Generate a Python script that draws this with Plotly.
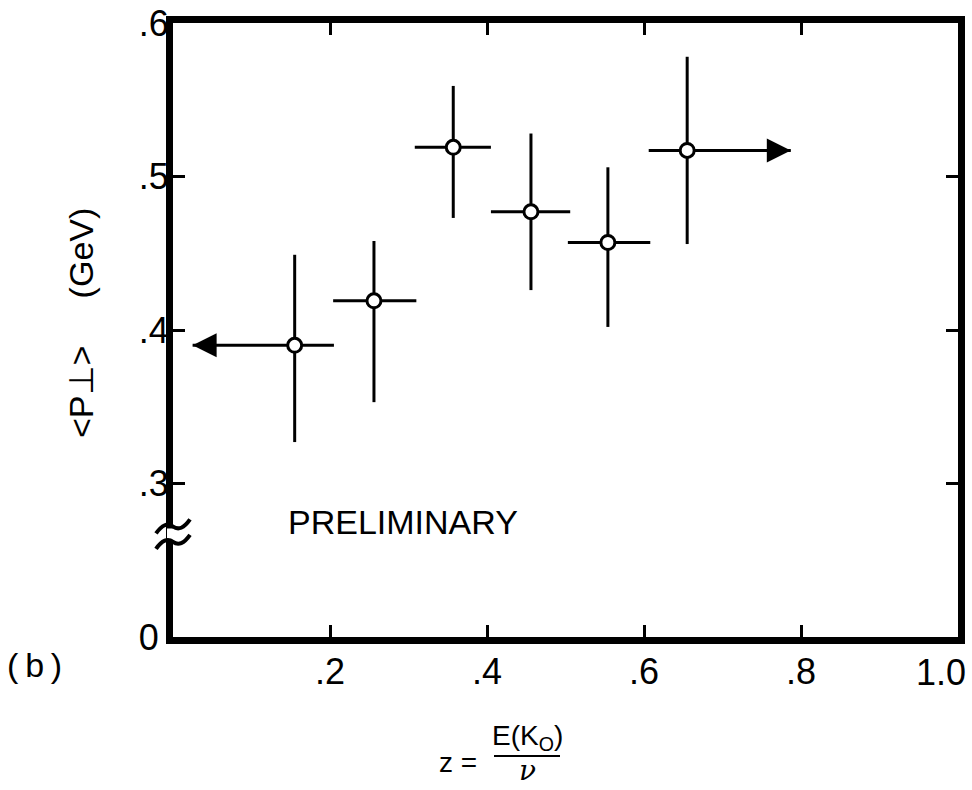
import plotly.graph_objects as go

# <p_T> of K0 versus z = E(K0)/nu, preliminary
z = [0.155, 0.256, 0.357, 0.456, 0.554, 0.655]
pt_mean = [0.390, 0.419, 0.519, 0.477, 0.457, 0.517]
pt_err_up = [0.059, 0.039, 0.040, 0.051, 0.049, 0.061]
pt_err_down = [0.063, 0.066, 0.046, 0.051, 0.055, 0.061]
z_err_left = [0.130, 0.052, 0.049, 0.051, 0.051, 0.049]
z_err_right = [0.050, 0.054, 0.048, 0.050, 0.054, 0.132]
open_left = [True, False, False, False, False, False]
open_right = [False, False, False, False, False, True]

x_ticks = [0.2, 0.4, 0.6, 0.8, 1.0]
x_tick_text = [".2", ".4", ".6", ".8", "1.0"]
# suppressed-zero scale: the bottom edge of the frame is labelled 0
y_ticks = [0.2, 0.3, 0.4, 0.5, 0.6]
y_tick_text = ["0\u00a0", ".3", ".4", ".5", ".6"]

X_RANGE = [0.0, 1.0]
Y_RANGE = [0.2, 0.6]

W, H = 972, 790
M = dict(l=173, r=14, t=23, b=153)
PW = W - M["l"] - M["r"]
PH = H - M["t"] - M["b"]

FONT = "Liberation Sans, Arial, sans-serif"
INK = "#000000"
TICK_SIZE = 36

fig = go.Figure()

fig.add_trace(go.Scatter(
    x=z, y=pt_mean, mode="markers",
    marker=dict(symbol="circle", size=14, color="white",
                line=dict(color=INK, width=3)),
    error_x=dict(type="data", symmetric=False, array=z_err_right,
                 arrayminus=z_err_left, color=INK, thickness=3, width=0),
    error_y=dict(type="data", symmetric=False, array=pt_err_up,
                 arrayminus=pt_err_down, color=INK, thickness=3, width=0),
    showlegend=False, hoverinfo="skip",
))

annotations = []
# arrowheads on open-ended z bins
for xi, yi, el, er, ol, orr in zip(z, pt_mean, z_err_left, z_err_right, open_left, open_right):
    if ol:
        tip = xi - el
        annotations.append(dict(x=tip, y=yi, ax=tip + 0.03, ay=yi, xref="x", yref="y",
                                axref="x", ayref="y", showarrow=True, arrowhead=2,
                                arrowsize=1.6, arrowwidth=3, arrowcolor=INK, text=""))
    if orr:
        tip = xi + er
        annotations.append(dict(x=tip, y=yi, ax=tip - 0.03, ay=yi, xref="x", yref="y",
                                axref="x", ayref="y", showarrow=True, arrowhead=2,
                                arrowsize=1.6, arrowwidth=3, arrowcolor=INK, text=""))


def px_x(px):
    # horizontal pixel offset -> paper fraction
    return px / PW


def px_y(px):
    return px / PH


def ydom(v):
    return (v - Y_RANGE[0]) / (Y_RANGE[1] - Y_RANGE[0])


def label(text, cx, cy, size, family=FONT, xanchor="center", yanchor="middle", **kw):
    # free text placed on a page position (pixels from top-left)
    return dict(text=text, x=px_x(cx - M["l"]), y=px_y(H - M["b"] - cy),
                xref="paper", yref="paper", xanchor=xanchor, yanchor=yanchor,
                showarrow=False, font=dict(family=family, size=size, color=INK), **kw)


# the last z label sits flush with the right edge of the frame
x_tick_text_drawn = x_tick_text[:-1] + [""]
last_x_label = dict(text=x_tick_text[-1], x=x_ticks[-1], xref="x", xanchor="right",
                    y=px_y(H - M["b"] - 672), yref="paper", yanchor="middle",
                    xshift=10, showarrow=False,
                    font=dict(family=FONT, size=TICK_SIZE, color=INK))

annotations += [
    last_x_label,
    label("&lt;P⊥&gt;     (GeV)", 81, 323, 34, textangle=-90),
    label("PRELIMINARY", 403, 522, 34),
    label("(\u2009b\u2009)", 34, 665, 34),
    label("z =", 458, 762, 28),
    label("E(K<sub>O</sub>)", 527, 737, 28),
    label("<i>ν</i>", 527, 789, 28, family="DejaVu Serif, serif", yanchor="bottom"),
]

shapes = [
    # fraction bar
    dict(type="line", xref="paper", yref="paper",
         x0=px_x(494 - M["l"]), x1=px_x(560 - M["l"]),
         y0=px_y(H - M["b"] - 756), y1=px_y(H - M["b"] - 756),
         line=dict(color=INK, width=2)),
]

# axis break on the vertical axis
y_up, y_lo = 0.272, 0.262
shapes.append(dict(type="rect", xref="paper", yref="y domain", layer="above",
                   x0=px_x(-6), x1=px_x(6), y0=ydom(y_lo) + px_y(2), y1=ydom(y_up) - px_y(2),
                   fillcolor="white", line=dict(width=0)))
for yc in (y_up, y_lo):
    c = ydom(yc)
    pts = [(-17, -7), (-8, 6), (0, 0), (17, 7)]
    path = "M {:.5f},{:.5f} Q {:.5f},{:.5f} {:.5f},{:.5f} T {:.5f},{:.5f}".format(
        px_x(pts[0][0]), c + px_y(pts[0][1]),
        px_x(pts[1][0]), c + px_y(pts[1][1]),
        px_x(pts[2][0]), c + px_y(pts[2][1]),
        px_x(pts[3][0]), c + px_y(pts[3][1]))
    shapes.append(dict(type="path", xref="paper", yref="y domain", layer="above",
                       path=path, line=dict(color=INK, width=4)))

axis_common = dict(showline=True, linecolor=INK, linewidth=7, mirror="ticks",
                   ticks="inside", ticklen=12, tickwidth=3, tickcolor=INK,
                   showgrid=False, zeroline=False, automargin=False,
                   tickfont=dict(family=FONT, size=TICK_SIZE, color=INK))

fig.update_xaxes(range=X_RANGE, tickvals=x_ticks, ticktext=x_tick_text_drawn,
                 ticklabelstandoff=-3, **axis_common)
fig.update_yaxes(range=Y_RANGE, tickvals=y_ticks, ticktext=y_tick_text,
                 ticklabelstandoff=-10, **axis_common)

fig.update_layout(
    width=W, height=H, margin=M,
    paper_bgcolor="white", plot_bgcolor="white",
    annotations=annotations, shapes=shapes,
)

fig.write_html("out.html")
